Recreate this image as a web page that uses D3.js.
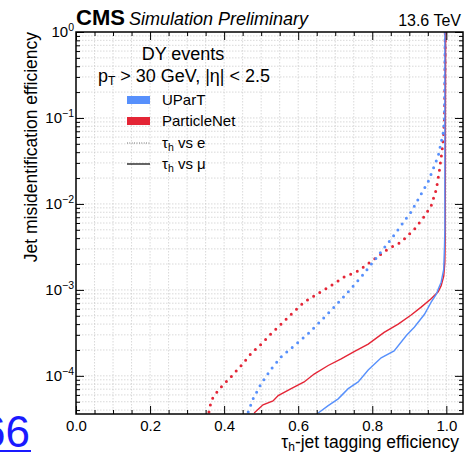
<!DOCTYPE html>
<html><head><meta charset="utf-8">
<script src="https://cdn.jsdelivr.net/npm/d3@7"></script>
<style>
body{margin:0;background:#fff;}
svg{display:block;font-family:"Liberation Sans",Arial,Helvetica,sans-serif;}
</style></head>
<body><svg id="c" width="471" height="455"></svg>
<script>
// ---- data ----
const xTicks = [0.0, 0.2, 0.4, 0.6, 0.8, 1.0];
const yTicks = [1e-4, 1e-3, 1e-2, 1e-1, 1];
const yTickExps = ["−4", "−3", "−2", "−1", "0"];
// UParT, tau_h vs e (dotted)
const upartE_x = [0.465,0.478,0.500,0.527,0.554,0.589,0.627,0.662,0.697,0.735,0.770,0.805,0.851,0.905,0.951,0.978,0.992,0.995,0.996,0.997];
const upartE_y = [3.8e-5,5.4e-5,8.1e-5,1.2e-4,1.66e-4,2.24e-4,3.1e-4,4.4e-4,6.3e-4,9.5e-4,1.41e-3,2.19e-3,3.9e-3,8.1e-3,1.82e-2,3.6e-2,6.9e-2,9.8e-2,0.25,1.0];
// ParticleNet, tau_h vs e (dotted)
const pnetE_x = [0.359,0.365,0.373,0.392,0.419,0.446,0.473,0.500,0.527,0.554,0.581,0.616,0.643,0.681,0.724,0.762,0.797,0.843,0.878,0.914,0.941,0.959,0.973,0.981,0.988,0.992,0.995,0.996,0.997];
const pnetE_y = [3.8e-5,5.1e-5,5.9e-5,7.4e-5,9.8e-5,1.32e-4,1.82e-4,2.34e-4,3.1e-4,4.0e-4,5.2e-4,7.2e-4,8.5e-4,1.07e-3,1.41e-3,1.66e-3,2.14e-3,3.0e-3,3.6e-3,5.1e-3,7.2e-3,9.5e-3,1.48e-2,2.4e-2,4.0e-2,5.8e-2,9.8e-2,0.25,1.0];
// ParticleNet, tau_h vs mu (solid)
const pnetMu_x = [0.481,0.505,0.532,0.546,0.581,0.616,0.643,0.681,0.716,0.751,0.789,0.832,0.870,0.905,0.932,0.959,0.978,0.986,0.993,0.996,0.997,0.998];
const pnetMu_y = [3.7e-5,4.6e-5,5.1e-5,5.9e-5,7.1e-5,8.5e-5,1.05e-4,1.32e-4,1.58e-4,1.91e-4,2.34e-4,3.2e-4,4.0e-4,5.1e-4,6.3e-4,7.9e-4,9.5e-4,1.12e-3,1.45e-3,2.1e-3,3.9e-3,1.0];
// UParT, tau_h vs mu (solid)
const upartMu_x = [0.654,0.681,0.708,0.735,0.762,0.789,0.824,0.859,0.892,0.914,0.941,0.959,0.973,0.978,0.986,0.993,0.995,0.996,0.996];
const upartMu_y = [3.7e-5,4.5e-5,5.4e-5,7.1e-5,8.5e-5,1.17e-4,1.62e-4,1.95e-4,2.95e-4,3.7e-4,5.2e-4,7.2e-4,8.9e-4,1.02e-3,1.23e-3,1.74e-3,3.2e-3,5.1e-3,1.0];

const legendLabels = ["UParT", "ParticleNet"];
const styleLabels = ["vs e", "vs μ"];

// ---- layout ----
const L = 76, R = 463, T = 32, B = 414;
const blue = "#5790fc", red = "#e42536";
const svg = d3.select("#c");
const x = d3.scaleLinear().domain([0, 1.045]).range([L, R]);
const y = d3.scaleLog().domain([3.6e-5, 1]).range([B, T]);

// grid
const xMinor = d3.range(0, 1.0451, 0.05);
const yMinor = [];
for (let e = -5; e <= 0; e++) for (let m = 1; m <= 9; m++) { const v = m * Math.pow(10, e); if (v >= 3.6e-5 && v <= 1) yMinor.push(v); }
const grid = svg.append("g").attr("stroke", "#c8c8c8").attr("stroke-width", 0.7).attr("stroke-dasharray", "1.5 1.5");
grid.selectAll("line.gx").data(xMinor.filter(v => v > 0.001)).join("line")
  .attr("x1", d => x(d)).attr("x2", d => x(d)).attr("y1", T).attr("y2", B);
grid.selectAll("line.gy").data(yMinor.filter(v => v < 0.999)).join("line")
  .attr("y1", d => y(d)).attr("y2", d => y(d)).attr("x1", L).attr("x2", R);

// curves
svg.append("clipPath").attr("id", "clip").append("rect").attr("x", L).attr("y", T).attr("width", R - L).attr("height", B - T);
const line = d3.line().x(d => x(d[0])).y(d => y(d[1]));
const zip = (a, b) => a.map((v, i) => [v, b[i]]);
const curves = svg.append("g").attr("clip-path", "url(#clip)").attr("fill", "none");
curves.append("path").datum(zip(pnetE_x, pnetE_y)).attr("d", line)
  .attr("stroke", red).attr("stroke-width", 3).attr("stroke-linecap", "round").attr("stroke-dasharray", "0 7.2");
curves.append("path").datum(zip(upartE_x, upartE_y)).attr("d", line)
  .attr("stroke", blue).attr("stroke-width", 3).attr("stroke-linecap", "round").attr("stroke-dasharray", "0 7.2");
curves.append("path").datum(zip(pnetMu_x, pnetMu_y)).attr("d", line)
  .attr("stroke", red).attr("stroke-width", 1.4);
curves.append("path").datum(zip(upartMu_x, upartMu_y)).attr("d", line)
  .attr("stroke", blue).attr("stroke-width", 1.4);

// axes (ticks inside)
const fmt = d3.format(".1f");
const gB = svg.append("g").attr("transform", `translate(0,${B})`)
  .call(d3.axisBottom(x).tickValues(xTicks).tickFormat(fmt).tickSize(-8).tickPadding(6));
gB.selectAll("text").attr("font-size", 15).attr("fill", "#000").attr("font-family", "Liberation Sans, Arial, sans-serif");
svg.append("g").attr("transform", `translate(0,${B})`)
  .call(d3.axisBottom(x).tickValues(xMinor.filter(v => Math.round(v * 20) % 4 !== 0)).tickFormat("").tickSize(-4));
svg.append("g").attr("transform", `translate(0,${T})`)
  .call(d3.axisTop(x).tickValues(xTicks).tickFormat("").tickSize(-8));
svg.append("g").attr("transform", `translate(0,${T})`)
  .call(d3.axisTop(x).tickValues(xMinor.filter(v => Math.round(v * 20) % 4 !== 0)).tickFormat("").tickSize(-4));

svg.append("g").attr("transform", `translate(${L},0)`)
  .call(d3.axisLeft(y).tickValues(yTicks).tickFormat("").tickSize(-8));
svg.append("g").attr("transform", `translate(${L},0)`)
  .call(d3.axisLeft(y).tickValues(yMinor.filter(v => !yTicks.includes(v))).tickFormat("").tickSize(-4));
svg.append("g").attr("transform", `translate(${R},0)`)
  .call(d3.axisRight(y).tickValues(yTicks).tickFormat("").tickSize(-8));
svg.append("g").attr("transform", `translate(${R},0)`)
  .call(d3.axisRight(y).tickValues(yMinor.filter(v => !yTicks.includes(v))).tickFormat("").tickSize(-4));
svg.selectAll(".domain").remove();
svg.selectAll(".tick line").attr("stroke", "#000").attr("stroke-width", 1);

// y tick labels 10^k
const yl = svg.append("g");
yTicks.forEach((v, i) => {
  const t = yl.append("text").attr("x", L - 2).attr("y", y(v) + 5).attr("text-anchor", "end").attr("font-size", 15);
  t.append("tspan").text("10");
  t.append("tspan").attr("font-size", 10.5).attr("dy", -6).text(yTickExps[i]);
});

// frame
svg.append("rect").attr("x", L).attr("y", T).attr("width", R - L).attr("height", B - T)
  .attr("fill", "none").attr("stroke", "#000").attr("stroke-width", 1.5);

// axis titles
const xt = svg.append("text").attr("x", R - 4).attr("y", 448).attr("text-anchor", "end").attr("font-size", 17.5);
xt.append("tspan").text("τ");
xt.append("tspan").attr("font-size", 12).attr("dy", 3).text("h");
xt.append("tspan").attr("dy", -3).text("-jet tagging efficiency");
svg.append("text").attr("transform", `translate(37,${T}) rotate(-90)`).attr("text-anchor", "end")
  .attr("font-size", 17.5).text("Jet misidentification efficiency");

// header
const h = svg.append("text").attr("x", L).attr("y", 25);
h.append("tspan").attr("font-weight", "bold").attr("font-size", 22).text("CMS");
h.append("tspan").attr("font-style", "italic").attr("font-size", 18).attr("dx", 4).text("Simulation Preliminary");
svg.append("text").attr("x", R - 2).attr("y", 26).attr("text-anchor", "end").attr("font-size", 16).text("13.6 TeV");

// legend
svg.append("text").attr("x", 183).attr("y", 60).attr("text-anchor", "middle").attr("font-size", 18).text("DY events");
const pt = svg.append("text").attr("x", 184).attr("y", 82).attr("text-anchor", "middle").attr("font-size", 18);
pt.append("tspan").text("p");
pt.append("tspan").attr("font-size", 12).attr("dy", 3).text("T");
pt.append("tspan").attr("dy", -3).text(" > 30 GeV, |η| < 2.5");

const lx0 = 127, lx1 = 150, tx = 162;
[blue, red].forEach((c, i) => {
  const cy = 100 + i * 21;
  svg.append("rect").attr("x", lx0).attr("y", cy - 4).attr("width", lx1 - lx0).attr("height", 8).attr("fill", c);
  svg.append("text").attr("x", tx).attr("y", cy + 5).attr("font-size", 15).text(legendLabels[i]);
});
[["0.8 1.6", 1], [null, 1.2]].forEach((s, i) => {
  const cy = 143 + i * 21;
  const l = svg.append("line").attr("x1", lx0).attr("x2", lx1).attr("y1", cy).attr("y2", cy)
    .attr("stroke", "#000").attr("stroke-width", s[1]);
  if (s[0]) l.attr("stroke-dasharray", s[0]).attr("stroke", "#555");
  const t = svg.append("text").attr("x", tx).attr("y", cy + 5).attr("font-size", 15);
  t.append("tspan").text("τ");
  t.append("tspan").attr("font-size", 10.5).attr("dy", 3).text("h");
  t.append("tspan").attr("dy", -3).text(" " + styleLabels[i]);
});

// cropped link artifact at bottom-left
svg.append("text").attr("x", 30).attr("y", 447).attr("text-anchor", "end").attr("font-size", 44)
  .attr("fill", "#1a1aff").text("66");
svg.append("rect").attr("x", 0).attr("y", 450).attr("width", 31).attr("height", 2).attr("fill", "#1a1aff");
</script></body></html>
